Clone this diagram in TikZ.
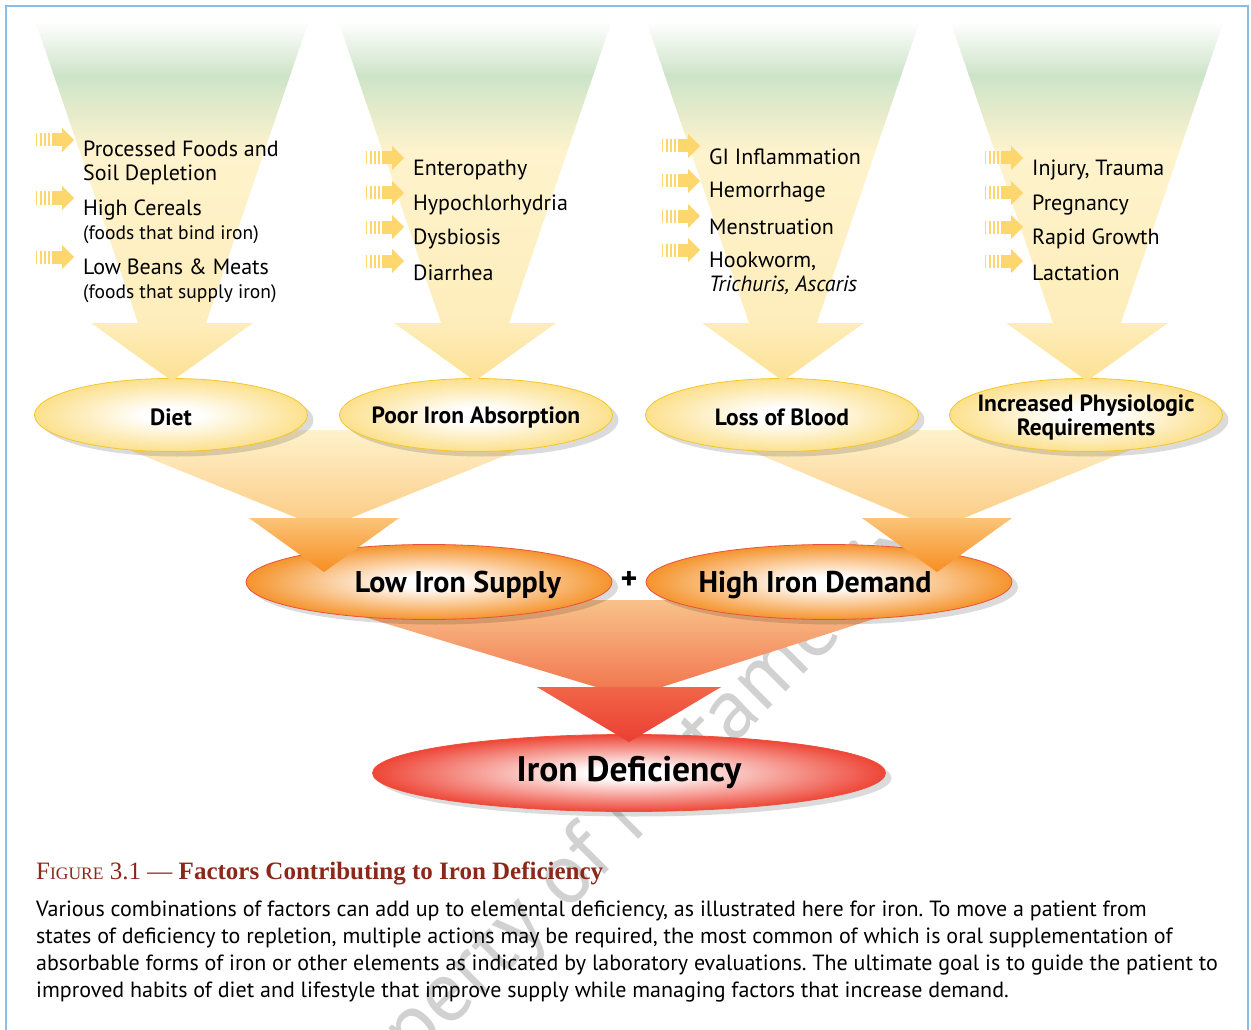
\documentclass[tikz,border=0pt]{standalone}
\usepackage{fontspec}
\setmainfont{PT Sans}
\newfontfamily\capserif{Liberation Serif}
\usetikzlibrary{shapes.geometric,shadows,positioning}

\definecolor{framecol}{RGB}{140,190,228}
\definecolor{fgreen}{RGB}{205,228,200}
\definecolor{fcream}{RGB}{254,243,205}
\definecolor{fyellow}{RGB}{253,224,145}
\definecolor{feedcol}{RGB}{253,214,110}
\definecolor{yedge}{RGB}{252,224,140}
\definecolor{ybord}{RGB}{245,198,40}
\definecolor{oedge}{RGB}{245,148,45}
\definecolor{olight}{RGB}{251,196,120}
\definecolor{oorange}{RGB}{246,140,30}
\definecolor{obord}{RGB}{236,80,60}
\definecolor{rlight}{RGB}{249,196,140}
\definecolor{rmid}{RGB}{242,120,80}
\definecolor{rred}{RGB}{236,60,52}
\definecolor{redge}{RGB}{238,70,55}
\definecolor{capred}{RGB}{140,40,25}

\pgfdeclareradialshading{yglow}{\pgfpointorigin}{color(0bp)=(white); color(5bp)=(white); color(25bp)=(yedge); color(50bp)=(yedge)}
\pgfdeclareradialshading{oglow}{\pgfpointorigin}{color(0bp)=(white); color(4bp)=(white); color(25bp)=(oedge); color(50bp)=(oedge)}
\pgfdeclareradialshading{rglow}{\pgfpointorigin}{color(0bp)=(white); color(4bp)=(white); color(25bp)=(redge); color(50bp)=(redge)}

% small striped arrow in front of each factor: left x, centre y
\newcommand{\feedarrow}[2]{%
  \foreach \k/\w in {0/1.2,4/1.6,8/2.0,12/2.4}
    \fill[feedcol] (#1+\k,#2-6.5) rectangle (#1+\k+\w,#2+6.5);
  \fill[feedcol] (#1+16,#2-6.5) rectangle (#1+27,#2+6.5);
  \fill[feedcol] (#1+26,#2-12) -- (#1+38,#2) -- (#1+26,#2+12) -- cycle;
}

\frenchspacing
\begin{document}
\begin{tikzpicture}[x=1pt,y=-1pt,font=\fontsize{22}{24}\selectfont,
  item/.style={anchor=west,align=left,inner sep=0pt},
  shadowed/.style={drop shadow={shadow xshift=6pt,shadow yshift=-5pt,opacity=0.14,fill=black}},
  cause/.style={ellipse,draw=ybord,line width=0.8pt,shading=yglow,shadowed,
    minimum width=273,minimum height=73,inner sep=0pt},
  causetext/.style={inner sep=0pt,align=center,yshift=-2pt,font=\fontsize{23.5}{24}\selectfont\bfseries},
  sum/.style={ellipse,draw=obord,line width=0.8pt,shading=oglow,shadowed,
    minimum width=366,minimum height=75,inner sep=0pt},
  sumtext/.style={inner sep=0pt,font=\fontsize{30}{30}\selectfont\bfseries},
  result/.style={ellipse,draw=obord,line width=0.8pt,shading=rglow,shadowed,
    minimum width=513,minimum height=77,inner sep=0pt,
    font=\fontsize{35.5}{36}\selectfont\bfseries}]
\useasboundingbox (0,0) rectangle (1251,1030);

% watermark
\node[rotate=45,text=black!18,font=\fontsize{86}{86}\selectfont] (wmark) at (616,832) {Property of Metametrix};

% frame
\draw[framecol,line width=2.5pt] (6,1032) -- (6,6) -- (1248,6) -- (1248,1032);

% end result
\node[result] (iron) at (629,773) {Iron Deficiency};

% funnel into iron deficiency
\begin{scope}
  \clip (308,600) -- (933,600) -- (662,687) -- (721,687) -- (629,742) -- (537,687) -- (596,687) -- cycle;
  \shade[top color=rlight,bottom color=rmid] (300,598) rectangle (940,688);
  \shade[top color=rmid!70!rred,bottom color=rred] (300,687) rectangle (940,744);
\end{scope}

% supply and demand
\node[sum] (low) at (429,582) {};
\node[sum] (high) at (829,582) {};

% funnels into supply and demand
\foreach \cx/\xl/\xr in {324/80/568,937/701/1179} {
  \begin{scope}
    \clip (\xl,430) -- (\xr,430) -- (\cx+27,518) -- (\cx+75,518) -- (\cx,572) -- (\cx-75,518) -- (\cx-27,518) -- cycle;
    \shade[top color=fcream,bottom color=olight!80!fcream] (\xl-5,428) rectangle (\xr+5,519);
    \shade[top color=olight,bottom color=oorange] (\xl-5,518) rectangle (\xr+5,574);
  \end{scope}
}

\node[sumtext] (lowtxt) at ([xshift=29pt,yshift=-3pt]low.center) {Low Iron Supply};
\node[sumtext] (hightxt) at ([xshift=-14pt,yshift=-3pt]high.center) {High Iron Demand};
\node[sumtext,font=\fontsize{32}{32}\selectfont\bfseries] (plus) at (629,580) {+};

% the four causes
\node[cause,label={[causetext]center:Diet}] (diet) at (171,415) {};
\node[cause,label={[causetext]center:Poor Iron Absorption}] (absorb) at (476,415) {};
\node[cause,label={[causetext]center:Loss of Blood}] (blood) at (782,415) {};
\node[cause,label={[causetext]center:Increased Physiologic\\Requirements}] (needs) at (1086,415) {};

% top funnels
\foreach \cx in {172,475,783,1087} {
  \begin{scope}
    \clip (\cx-136,23) -- (\cx+136,23) -- (\cx+34,323) -- (\cx+81,323) -- (\cx,381) -- (\cx-81,323) -- (\cx-34,323) -- cycle;
    \shade[top color=white,bottom color=fgreen] (\cx-140,21) rectangle (\cx+140,76);
    \shade[top color=fgreen,bottom color=fcream] (\cx-140,75) rectangle (\cx+140,151);
    \shade[top color=fcream,bottom color=fcream!70!fyellow] (\cx-140,150) rectangle (\cx+140,324);
    \shade[top color=fcream!70!fyellow,bottom color=fyellow] (\cx-140,323) rectangle (\cx+140,383);
  \end{scope}
}

% diet factors
\node[item] (d1) at (83,163) {Processed Foods and\\Soil Depletion};
\node[item] (d2) at (83,222) {High Cereals\\{\fontsize{19.5}{22}\selectfont (foods that bind iron)}};
\node[item] (d3) at (83,281) {Low Beans \& Meats\\{\fontsize{19.5}{22}\selectfont (foods that supply iron)}};
\foreach \y in {140,198,257} \feedarrow{36}{\y};

% absorption factors
\foreach \y/\t [count=\i] in {170/Enteropathy,205/Hypochlorhydria,239/Dysbiosis,273/Diarrhea} {
  \node[item] (a\i) at (413,\y) {\t};
  \feedarrow{366}{\y-12};
}

% blood loss factors
\foreach \y/\t [count=\i] in {157/GI Inflammation,192/Hemorrhage,227/Menstruation} {
  \node[item] (b\i) at (709,\y) {\t};
  \feedarrow{662}{\y-11};
}
\node[item] (b4) at (709,273.5) {Hookworm,\\\textit{Trichuris, Ascaris}};
\feedarrow{662}{250}

% physiologic factors
\foreach \y/\t [count=\i] in {170/{Injury, Trauma},205/Pregnancy,239/Rapid Growth,273/Lactation} {
  \node[item] (r\i) at (1032,\y) {\t};
  \feedarrow{985}{\y-12};
}

% caption
\node[anchor=base west,inner sep=0pt,text=capred,font=\capserif\fontsize{25}{28}\selectfont] (title) at (36,879)
  {F{\fontsize{17.5}{20}\selectfont IGURE} 3.1 — \textbf{Factors Contributing to Iron Deficiency}};
\node[anchor=north west,align=left,inner sep=0pt,font=\fontsize{22}{27}\selectfont] (body) at (36,901)
  {Various combinations of factors can add up to elemental deficiency, as illustrated here for iron. To move a patient from\\
   states of deficiency to repletion, multiple actions may be required, the most common of which is oral supplementation of\\
   absorbable forms of iron or other elements as indicated by laboratory evaluations. The ultimate goal is to guide the patient to\\
   improved habits of diet and lifestyle that improve supply while managing factors that increase demand.};
\end{tikzpicture}
\end{document}
